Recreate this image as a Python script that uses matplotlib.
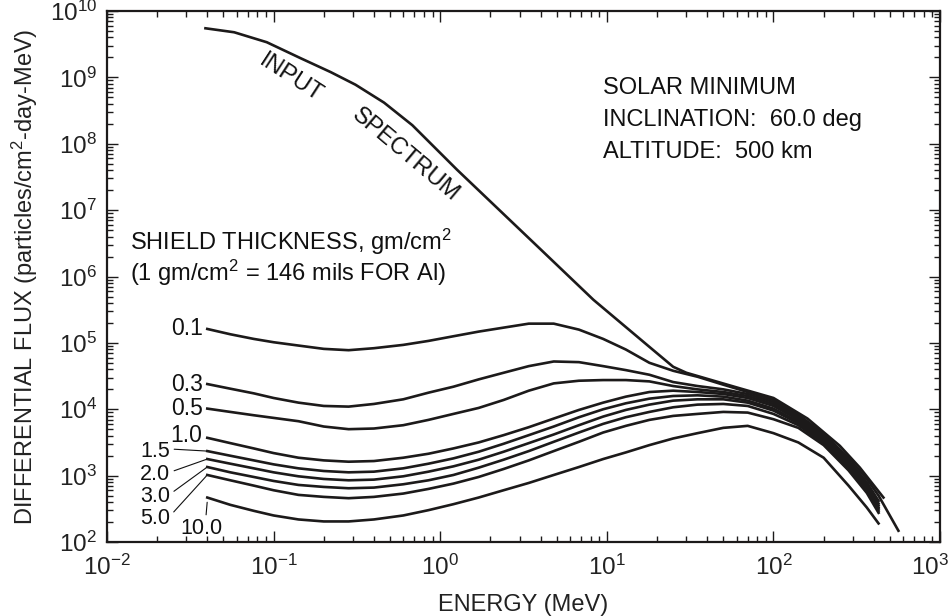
import numpy as np
import matplotlib
matplotlib.use('Agg')
import matplotlib.pyplot as plt
from matplotlib.ticker import LogLocator, NullFormatter
from matplotlib.transforms import ScaledTranslation

plt.rcParams['font.family'] = ['Liberation Sans', 'DejaVu Sans']
plt.rcParams['mathtext.fontset'] = 'custom'
plt.rcParams['mathtext.rm'] = 'Liberation Sans'
plt.rcParams['mathtext.it'] = 'Liberation Sans'

# input spectrum (energy in MeV, flux as log10)
input_energy = [0.039, 0.058, 0.091, 0.145, 0.22, 0.31, 0.46, 0.68, 1.26, 4.0, 8.3, 18, 25, 30, 60, 100, 160, 250, 330, 457]
input_log_flux = [9.74, 9.68, 9.53, 9.29, 9.08, 8.89, 8.62, 8.28, 7.61, 6.41, 5.65, 4.94, 4.64, 4.55, 4.33, 4.17, 3.86, 3.45, 3.12, 2.67]

# shielded spectra on a common energy grid (MeV), flux as log10
energy = [0.04, 0.055, 0.076, 0.1, 0.141, 0.2, 0.282, 0.4, 0.6, 0.85, 1.2, 1.7, 2.4, 3.4, 4.8,
          6.8, 9.5, 13, 18, 25, 35, 50, 70, 100, 141, 200, 282, 363, 427, 562]
thickness = ['0.1', '0.3', '0.5', '1.0', '1.5', '2.0', '3.0', '5.0', '10.0']
lf_01 = [5.21, 5.13, 5.06, 5.01, 4.96, 4.91, 4.89, 4.92, 4.97, 5.03, 5.10, 5.17, 5.23, 5.29, 5.29,
         5.20, 5.06, 4.90, 4.70, 4.58, 4.49, 4.37, 4.26, 4.14, 3.92, 3.63, 3.27, 2.95, 2.70, 2.17]
lf_03 = [4.38, 4.31, 4.24, 4.17, 4.10, 4.05, 4.04, 4.08, 4.15, 4.25, 4.34, 4.45, 4.55, 4.65, 4.72,
         4.71, 4.65, 4.59, 4.52, 4.41, 4.35, 4.30, 4.23, 4.11, 3.89, 3.60, 3.23, 2.90, 2.62]
lf_05 = [4.01, 3.96, 3.91, 3.87, 3.82, 3.74, 3.70, 3.71, 3.76, 3.84, 3.93, 4.02, 4.14, 4.28, 4.39,
         4.43, 4.44, 4.44, 4.42, 4.35, 4.30, 4.26, 4.20, 4.08, 3.87, 3.58, 3.20, 2.87, 2.58]
lf_10 = [3.57, 3.49, 3.41, 3.34, 3.27, 3.23, 3.21, 3.22, 3.27, 3.33, 3.41, 3.50, 3.61, 3.73, 3.86,
         3.99, 4.10, 4.19, 4.26, 4.28, 4.26, 4.23, 4.17, 4.05, 3.84, 3.56, 3.18, 2.84, 2.55]
lf_15 = [3.37, 3.30, 3.23, 3.17, 3.11, 3.07, 3.05, 3.06, 3.11, 3.18, 3.26, 3.36, 3.48, 3.61, 3.74,
         3.88, 4.00, 4.09, 4.16, 4.20, 4.21, 4.19, 4.13, 4.01, 3.81, 3.54, 3.16, 2.82, 2.52]
lf_20 = [3.25, 3.18, 3.11, 3.05, 2.99, 2.95, 2.93, 2.94, 2.99, 3.06, 3.14, 3.24, 3.36, 3.49, 3.62,
         3.76, 3.89, 3.99, 4.07, 4.13, 4.15, 4.15, 4.10, 3.98, 3.79, 3.52, 3.14, 2.80, 2.50]
lf_30 = [3.13, 3.05, 2.98, 2.92, 2.86, 2.83, 2.81, 2.82, 2.87, 2.93, 3.01, 3.12, 3.24, 3.37, 3.51,
         3.65, 3.78, 3.88, 3.96, 4.03, 4.07, 4.08, 4.05, 3.93, 3.76, 3.49, 3.11, 2.77, 2.47]
lf_50 = [3.01, 2.93, 2.85, 2.78, 2.71, 2.68, 2.66, 2.68, 2.73, 2.80, 2.88, 2.98, 3.10, 3.23, 3.37,
         3.51, 3.65, 3.75, 3.84, 3.90, 3.93, 3.96, 3.95, 3.85, 3.72, 3.46, 3.08, 2.74, 2.44]
lf_100 = [2.67, 2.56, 2.47, 2.40, 2.34, 2.31, 2.31, 2.34, 2.40, 2.48, 2.57, 2.67, 2.78, 2.89, 3.01,
          3.13, 3.25, 3.35, 3.46, 3.56, 3.64, 3.72, 3.75, 3.64, 3.50, 3.27, 2.85, 2.52, 2.28]
shielded = [lf_01, lf_03, lf_05, lf_10, lf_15, lf_20, lf_30, lf_50, lf_100]

xticks = [1e-2, 1e-1, 1e0, 1e1, 1e2, 1e3]
xticklabels = ['$\\mathregular{10^{-2}}$', '$\\mathregular{10^{-1}}$', '$\\mathregular{10^{0}}$',
               '$\\mathregular{10^{1}}$', '$\\mathregular{10^{2}}$', '$\\mathregular{10^{3}}$']
yticks = [1e2, 1e3, 1e4, 1e5, 1e6, 1e7, 1e8, 1e9, 1e10]
yticklabels = ['$\\mathregular{10^{2}}$', '$\\mathregular{10^{3}}$', '$\\mathregular{10^{4}}$',
               '$\\mathregular{10^{5}}$', '$\\mathregular{10^{6}}$', '$\\mathregular{10^{7}}$',
               '$\\mathregular{10^{8}}$', '$\\mathregular{10^{9}}$', '$\\mathregular{10^{10}}$']

fig = plt.figure(figsize=(9.5, 6.16), dpi=100)
ax = fig.add_axes([0.1126, 0.1201, 0.877, 0.862])

lc = '#1c1a1a'
ax.plot(input_energy, 10 ** np.array(input_log_flux), color=lc, lw=1.9)
for lf in shielded:
    ax.plot(energy[:len(lf)], 10 ** np.array(lf), color=lc, lw=1.9)

ax.set_xscale('log')
ax.set_yscale('log')
ax.set_xlim(1e-2, 1e3)
ax.set_ylim(1e2, 1e10)
ax.set_xticks(xticks)
ax.set_xticklabels(xticklabels)
ax.set_yticks(yticks)
ax.set_yticklabels(yticklabels)
for axis in (ax.xaxis, ax.yaxis):
    axis.set_minor_locator(LogLocator(base=10, subs=np.arange(2, 10), numticks=100))
    axis.set_minor_formatter(NullFormatter())
ax.tick_params(which='both', direction='in', top=True, right=True, width=1.0, colors=lc)
ax.tick_params(which='major', length=8, labelsize=17.5, labelcolor='#222222')
ax.tick_params(which='minor', length=4.5)
ax.tick_params(axis='x', pad=9)
ax.tick_params(axis='y', pad=7)
for s in ax.spines.values():
    s.set_linewidth(1.6)
    s.set_color(lc)
# last x label sits a little left of its tick, as in the original
last = ax.get_xticklabels()[-1]
last.set_transform(last.get_transform() + ScaledTranslation(-0.1, 0, fig.dpi_scale_trans))

ax.set_xlabel('ENERGY (MeV)', fontsize=17, color='#222222')
ax.set_ylabel('DIFFERENTIAL FLUX (particles/cm$^2$-day-MeV)', fontsize=17, color='#222222')
ax.xaxis.set_label_coords(0.5, -0.098)
ax.yaxis.set_label_coords(-0.08, 0.5)

tc = '#111111'
fs = 17
ax.text(0.595, 0.855, 'SOLAR MINIMUM', transform=ax.transAxes, fontsize=fs, va='center', color=tc)
ax.text(0.595, 0.795, 'INCLINATION:  60.0 deg', transform=ax.transAxes, fontsize=fs, va='center', color=tc)
ax.text(0.595, 0.735, 'ALTITUDE:  500 km', transform=ax.transAxes, fontsize=fs, va='center', color=tc)
ax.text(0.0276, 0.565, 'SHIELD THICKNESS, gm/cm$^2$', transform=ax.transAxes, fontsize=fs, va='center', color=tc)
ax.text(0.0276, 0.507, '(1 gm/cm$^2$ = 146 mils FOR Al)', transform=ax.transAxes, fontsize=fs, va='center', color=tc)

ax.text(0.126, 10 ** 8.99, 'INPUT', fontsize=fs, rotation=-33, ha='center', va='center', color=tc)
ax.text(0.62, 10 ** 7.83, 'SPECTRUM', fontsize=fs, rotation=-40, ha='center', va='center', color=tc)

# thickness labels next to curve starts
lfs = 16.5
sfs = 15.5
ax.text(0.0375, 10 ** 5.21, thickness[0], fontsize=lfs, ha='right', va='center', color=tc)
ax.text(0.0375, 10 ** 4.38, thickness[1], fontsize=lfs, ha='right', va='center', color=tc)
ax.text(0.0375, 10 ** 4.01, thickness[2], fontsize=lfs, ha='right', va='center', color=tc)
ax.text(0.0375, 10 ** 3.61, thickness[3], fontsize=lfs, ha='right', va='center', color=tc)
leader = [(thickness[4], 3.37, lf_15[0]), (thickness[5], 3.02, lf_20[0]),
          (thickness[6], 2.69, lf_30[0]), (thickness[7], 2.36, lf_50[0])]
for lab, ly, fy in leader:
    ax.annotate(lab, xy=(energy[0], 10 ** fy), xytext=(0.0239, 10 ** ly), fontsize=sfs,
                ha='right', va='center', color=tc,
                arrowprops=dict(arrowstyle='-', lw=0.8, color=tc, shrinkA=1, shrinkB=1, relpos=(1.0, 0.6)))
ax.annotate(thickness[8], xy=(energy[0], 10 ** (lf_100[0] - 0.05)), xytext=(0.037, 10 ** 2.21), fontsize=sfs,
            ha='center', va='center', color=tc,
            arrowprops=dict(arrowstyle='-', lw=0.8, color=tc, shrinkA=0, shrinkB=1, relpos=(0.6, 1.0)))

fig.savefig('out.png', dpi=100)
